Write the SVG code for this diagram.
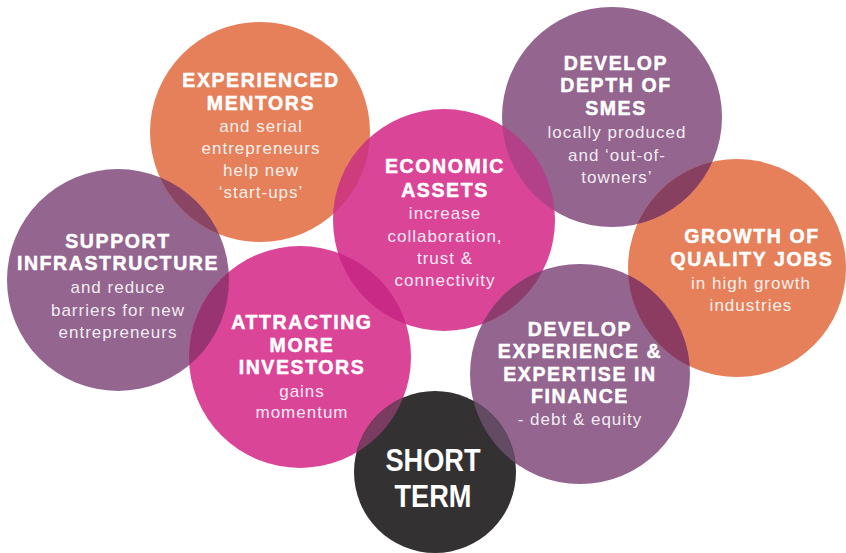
<svg xmlns="http://www.w3.org/2000/svg" width="846" height="553" viewBox="0 0 846 553">
<style>
.o{fill:#E6805A}.p{fill:#93658F}.m{fill:#DB4598}.d{fill:#333132}
.t{font-family:"Liberation Sans",Arial,sans-serif;font-weight:bold;font-size:19.5px;letter-spacing:1.6px;fill:#fff;text-anchor:middle;stroke:#fff;stroke-width:0.5}
.b{font-family:"Liberation Sans",Arial,sans-serif;font-size:17px;letter-spacing:1px;fill:#fff;fill-opacity:0.9;text-anchor:middle}
.s{font-family:"Liberation Sans",Arial,sans-serif;font-weight:bold;font-size:32px;fill:#fff;text-anchor:middle}
</style>
<defs>
<clipPath id="cSup"><circle cx="118" cy="280" r="111"/></clipPath>
<clipPath id="cMen"><circle cx="260" cy="132" r="110"/></clipPath>
<clipPath id="cEco"><circle cx="444" cy="220" r="111"/></clipPath>
<clipPath id="cSme"><circle cx="612" cy="117" r="110"/></clipPath>
<clipPath id="cGro"><circle cx="737" cy="268" r="109"/></clipPath>
<clipPath id="cAtt"><circle cx="300" cy="357" r="111"/></clipPath>
<clipPath id="cFin"><circle cx="580" cy="374" r="110"/></clipPath>
</defs>
<g id="connectors"/>
<g id="support">
<circle class="p" cx="118" cy="280" r="111"/>
<text class="t" x="118" y="248">SUPPORT</text>
<text class="t" x="118" y="270">INFRASTRUCTURE</text>
<text class="b" x="118" y="293">and reduce</text>
<text class="b" x="118" y="316">barriers for new</text>
<text class="b" x="118" y="338">entrepreneurs</text>
</g>
<g id="mentors">
<circle class="o" cx="260" cy="132" r="110"/>
<circle cx="260" cy="132" r="110" fill="#8A4565" clip-path="url(#cSup)"/>
<text class="t" x="261" y="87">EXPERIENCED</text>
<text class="t" x="261" y="110">MENTORS</text>
<text class="b" x="261" y="132">and serial</text>
<text class="b" x="261" y="154">entrepreneurs</text>
<text class="b" x="261" y="176">help new</text>
<text class="b" x="261" y="198">‘start-ups’</text>
</g>
<g id="economic">
<circle class="m" cx="444" cy="220" r="111"/>
<circle cx="444" cy="220" r="111" fill="#CF3C7C" clip-path="url(#cMen)"/>
<text class="t" x="445" y="173">ECONOMIC</text>
<text class="t" x="445" y="197">ASSETS</text>
<text class="b" x="445" y="219">increase</text>
<text class="b" x="445" y="242">collaboration,</text>
<text class="b" x="445" y="264">trust &amp;</text>
<text class="b" x="445" y="286">connectivity</text>
</g>
<g id="smes">
<circle class="p" cx="612" cy="117" r="110"/>
<circle cx="612" cy="117" r="110" fill="#B3418A" clip-path="url(#cEco)"/>
<text class="t" x="616" y="70">DEVELOP</text>
<text class="t" x="616" y="92">DEPTH OF</text>
<text class="t" x="616" y="115">SMES</text>
<text class="b" x="617" y="138">locally produced</text>
<text class="b" x="617" y="161">and ‘out-of-</text>
<text class="b" x="617" y="183">towners’</text>
</g>
<g id="growth">
<circle class="o" cx="737" cy="268" r="109"/>
<circle cx="737" cy="268" r="109" fill="#874060" clip-path="url(#cSme)"/>
<text class="t" x="752" y="243">GROWTH OF</text>
<text class="t" x="752" y="266">QUALITY JOBS</text>
<text class="b" x="751" y="289">in high growth</text>
<text class="b" x="751" y="311">industries</text>
</g>
<g id="attracting">
<circle class="m" cx="300" cy="357" r="111"/>
<circle cx="300" cy="357" r="111" fill="#993473" clip-path="url(#cSup)"/>
<circle cx="300" cy="357" r="111" fill="#C92A86" clip-path="url(#cEco)"/>
<text class="t" x="302" y="329">ATTRACTING</text>
<text class="t" x="302" y="352">MORE</text>
<text class="t" x="302" y="374">INVESTORS</text>
<text class="b" x="302" y="397">gains</text>
<text class="b" x="302" y="418">momentum</text>
</g>
<g id="finance">
<circle class="p" cx="580" cy="374" r="110"/>
<circle cx="580" cy="374" r="110" fill="#8E3C6E" clip-path="url(#cEco)"/>
<circle cx="580" cy="374" r="110" fill="#8C3C60" clip-path="url(#cGro)"/>
<text class="t" x="580" y="336">DEVELOP</text>
<text class="t" x="580" y="358">EXPERIENCE &amp;</text>
<text class="t" x="580" y="381">EXPERTISE IN</text>
<text class="t" x="580" y="403">FINANCE</text>
<text class="b" x="580" y="425">- debt &amp; equity</text>
</g>
<g id="shortterm">
<circle class="d" cx="435" cy="472" r="81"/>
<circle cx="435" cy="472" r="81" fill="#7A3C60" clip-path="url(#cAtt)"/>
<circle cx="435" cy="472" r="81" fill="#634B63" clip-path="url(#cFin)"/>
<g transform="translate(433 0) scale(0.85 1)">
<text class="s" x="0" y="471">SHORT</text>
<text class="s" x="0" y="507">TERM</text>
</g>
</g>
</svg>
